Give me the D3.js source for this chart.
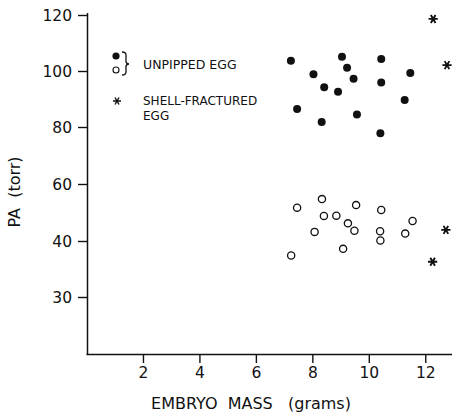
<!DOCTYPE html>
<html><head><meta charset="utf-8">
<script src="https://cdn.jsdelivr.net/npm/d3@7"></script>
<style>
html,body{margin:0;padding:0;background:#fff;}
text{font-family:"DejaVu Sans","Liberation Sans",sans-serif;fill:#111;}
</style></head>
<body><svg id="c" width="452" height="415"></svg>
<script>
// Data
const unpippedFilledMass = [7.24,9.05,9.23,10.44,8.04,9.46,10.44,11.47,8.42,8.91,7.46,11.27,9.58,8.33,10.41];
const unpippedFilledPA   = [103.7,105.1,101.2,104.3,98.8,97.2,95.9,99.3,94.2,92.6,86.4,89.6,84.5,81.8,77.8];
const unpippedOpenMass = [7.46,8.34,8.41,8.85,9.55,10.44,8.08,9.26,9.49,10.40,10.41,11.55,11.29,9.09,7.25];
const unpippedOpenPA   = [51.7,54.7,48.8,48.9,52.6,50.9,43.2,46.2,43.6,43.4,40.2,47.0,42.6,38.6,37.4];
const fracturedMass = [12.28,12.77,12.73,12.26];
const fracturedPA   = [118.6,102.1,43.9,36.3];
const xTicks = [2,4,6,8,10,12];
const yTicks = [30,40,60,80,100,120];

const svg = d3.select("#c");
const x = d3.scaleLinear().domain([0,13]).range([86.5,453.5]);
const y = d3.scaleLinear().domain([20,30,40,60,80,100,120]).range([354,297,241,184,127,71,15]);

// axes
const gx = svg.append("g").attr("transform","translate(0,354)")
  .call(d3.axisBottom(x).tickValues(xTicks).tickSize(9).tickPadding(4).tickFormat(d3.format("d")));
gx.select(".domain").attr("d","M86.5,0.5H452");
const gy = svg.append("g").attr("transform","translate(87,0)")
  .call(d3.axisLeft(y).tickValues(yTicks).tickSize(9).tickPadding(6).tickFormat(d3.format("d")));
gy.select(".domain").attr("d","M0.5,13V354.5");
svg.selectAll(".domain").attr("stroke","#111").attr("stroke-width",1.5);
svg.selectAll(".tick line").attr("stroke","#111").attr("stroke-width",1.4);
svg.selectAll(".tick text").attr("font-size",15.5).attr("fill","#111")
  .attr("font-family","DejaVu Sans, sans-serif");
gy.selectAll(".tick text").attr("dy","0.35em");

// titles
svg.append("text").attr("x",251).attr("y",409).attr("text-anchor","middle")
  .attr("font-size",16).style("white-space","pre").text("EMBRYO  MASS   (grams)");
svg.append("text").attr("transform","translate(20,192) rotate(-90)").attr("text-anchor","middle")
  .attr("font-size",16).style("white-space","pre").text("PA  (torr)");

// points
const filled = d3.zip(unpippedFilledMass, unpippedFilledPA);
const open = d3.zip(unpippedOpenMass, unpippedOpenPA);
const frac = d3.zip(fracturedMass, fracturedPA);
svg.append("g").selectAll("circle").data(filled).join("circle")
  .attr("cx",d=>x(d[0])).attr("cy",d=>y(d[1])).attr("r",4).attr("fill","#111");
svg.append("g").selectAll("circle").data(open).join("circle")
  .attr("cx",d=>x(d[0])).attr("cy",d=>y(d[1])).attr("r",3.6).attr("fill","#fff")
  .attr("stroke","#111").attr("stroke-width",1.3);
const star = d3.symbol().type(d3.symbolAsterisk).size(60);
svg.append("g").selectAll("path").data(frac).join("path")
  .attr("transform",d=>`translate(${x(d[0])},${y(d[1])}) rotate(90)`).attr("d",star)
  .attr("fill","none").attr("stroke","#111").attr("stroke-width",1.9);

// legend
const lg = svg.append("g");
lg.append("circle").attr("cx",116).attr("cy",56).attr("r",3.6).attr("fill","#111");
lg.append("circle").attr("cx",116).attr("cy",70).attr("r",3).attr("fill","#fff").attr("stroke","#111").attr("stroke-width",1.1);
lg.append("path").attr("d","M122,52 Q126,52 126,55 V61 Q126,64 129,64 Q126,64 126,67 V72 Q126,75 122,75")
  .attr("fill","none").attr("stroke","#111").attr("stroke-width",1.3);
lg.append("text").attr("x",143).attr("y",69).attr("font-size",12.5).text("UNPIPPED EGG");
lg.append("path").attr("transform","translate(117,101) rotate(90)").attr("d",d3.symbol().type(d3.symbolAsterisk).size(45))
  .attr("fill","none").attr("stroke","#111").attr("stroke-width",1.4);
lg.append("text").attr("x",143).attr("y",104.5).attr("font-size",12).text("SHELL-FRACTURED");
lg.append("text").attr("x",143).attr("y",119.5).attr("font-size",12).text("EGG");
</script></body></html>
